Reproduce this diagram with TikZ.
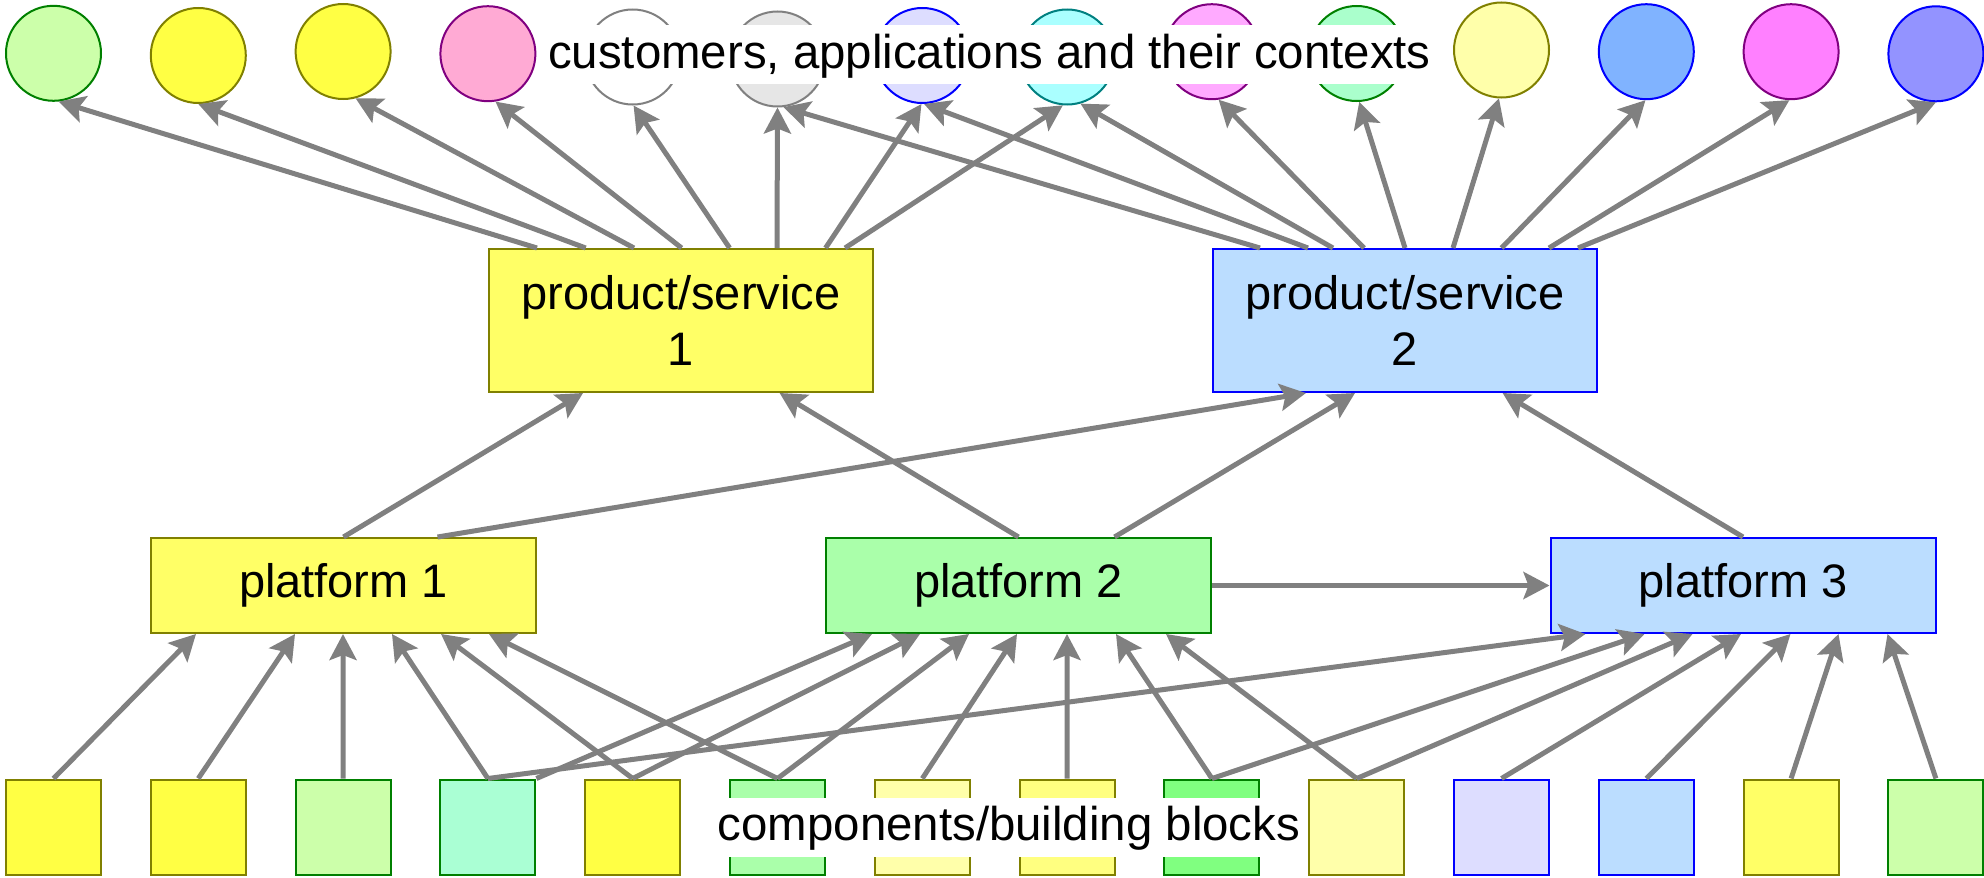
\documentclass[tikz,border=0pt]{standalone}
\usepackage{fontspec}
\setmainfont{Liberation Sans}
\usetikzlibrary{arrows.meta}
\definecolor{arrgray}{HTML}{808080}
\definecolor{dolive}{HTML}{808000}
\definecolor{dgreen}{HTML}{008000}
\definecolor{dblue}{HTML}{0000FF}
\definecolor{dpurple}{HTML}{800080}
\definecolor{dgray}{HTML}{808080}
\definecolor{dteal}{HTML}{008080}
\definecolor{fyel}{HTML}{FFFF44}
\definecolor{fyelb}{HTML}{FFFF66}
\definecolor{fyelc}{HTML}{FFFF80}
\definecolor{fpyel}{HTML}{FFFFAA}
\definecolor{flime}{HTML}{CCFFAA}
\definecolor{fmint}{HTML}{AAFFD4}
\definecolor{flgreen}{HTML}{AAFFAA}
\definecolor{fgreen}{HTML}{80FF80}
\definecolor{fpink}{HTML}{FFAAD4}
\definecolor{flgray}{HTML}{E6E6E6}
\definecolor{flav}{HTML}{DDDDFF}
\definecolor{fcyan}{HTML}{AAFFFF}
\definecolor{fmag}{HTML}{FFAAFF}
\definecolor{fmintb}{HTML}{AAFFCC}
\definecolor{fblue}{HTML}{80B3FF}
\definecolor{fmagb}{HTML}{FF80FF}
\definecolor{fperi}{HTML}{9393FF}
\definecolor{flblue}{HTML}{BBDDFF}
\begin{document}
\begin{tikzpicture}[x=1pt,y=-1pt,
  circ/.style={circle, minimum size=95pt, inner sep=0pt, line width=2pt},
  sqbox/.style={rectangle, minimum width=95pt, minimum height=95pt, inner sep=0pt, line width=2pt},
  platbox/.style={rectangle, minimum width=385pt, minimum height=95pt, inner sep=0pt, line width=2pt, font=\fontsize{47}{56.7}\selectfont},
  prodbox/.style={rectangle, minimum width=384pt, minimum height=143pt, inner sep=0pt, line width=2pt, align=center, font=\fontsize{47}{56.7}\selectfont},
  lab/.style={fill=white, inner xsep=4pt, inner ysep=0pt, text height=43pt, text depth=16pt, font=\fontsize{47.4}{56}\selectfont},
  arr/.style={draw=arrgray, line width=5pt, -{Stealth[length=26pt,width=27pt,inset=5pt]}}
]
\useasboundingbox (0,0) rectangle (1984,878);
% circles
\foreach \i/\x/\y/\f/\d in {1/53.5/53.3/flime/dgreen, 2/198.3/55.5/fyel/dolive, 3/343.1/51.5/fyel/dolive,
  4/487.9/53.7/fpink/dpurple, 5/632.7/57/white/dgray, 6/777.5/59/flgray/dgray, 7/922.3/55.5/flav/dblue,
  8/1067.1/57/fcyan/dteal, 9/1211.9/51.7/fmag/dpurple, 10/1356.7/53.5/fmintb/dgreen, 11/1501.5/50/fpyel/dolive,
  12/1646.3/51.7/fblue/dblue, 13/1791.1/51.7/fmagb/dpurple, 14/1935.9/53.8/fperi/dblue}
  \node[circ, fill=\f, draw=\d] (c\i) at (\x,\y) {};
% squares
\foreach \i/\f/\d in {1/fyel/dolive, 2/fyel/dolive, 3/flime/dgreen, 4/fmint/dgreen, 5/fyel/dolive,
  6/flgreen/dgreen, 7/fpyel/dolive, 8/fyelc/dolive, 9/fgreen/dgreen, 10/fpyel/dolive,
  11/flav/dblue, 12/flblue/dblue, 13/fyelb/dolive, 14/flime/dgreen}
  \node[sqbox, fill=\f, draw=\d] (s\i) at ({53.5+144.8*(\i-1)},827) {};
% labels
\node[lab] (ctx) at (989.5,54.5) {customers, applications and their contexts};
\node[lab] (cmp) at (1009,827) {components/building blocks};
% products and platforms
\node[prodbox, fill=fyelb, draw=dolive] (PA) at (681,320.5) {product/service\\1};
\node[prodbox, fill=flblue, draw=dblue] (PB) at (1405,320.5) {product/service\\2};
\node[platbox, fill=fyelb, draw=dolive] (L1) at (343.5,585.5) {platform 1};
\node[platbox, fill=flgreen, draw=dgreen] (L2) at (1018.5,585.5) {platform 2};
\node[platbox, fill=flblue, draw=dblue] (L3) at (1743,585.5) {platform 3};
% product -> circles
\draw[arr] ([xshift=49pt]PA.north west) -- (c1.-84.7);
\draw[arr] ([xshift=97.7pt]PA.north west) -- (c2.-90);
\draw[arr] ([xshift=146pt]PA.north west) -- (c3.-75.7);
\draw[arr] ([xshift=193.6pt]PA.north west) -- (c4.-81);
\draw[arr] ([xshift=241.6pt]PA.north west) -- (c5.-89);
\draw[arr] ([xshift=289pt]PA.north west) -- (c6.-90);
\draw[arr] ([xshift=337.5pt]PA.north west) -- (c7.-91.5);
\draw[arr] ([xshift=357pt]PA.north west) -- (c8.-95.3);
\draw[arr] ([xshift=48pt]PB.north west) -- (c6.-83);
\draw[arr] ([xshift=96pt]PB.north west) -- (c7.-88);
\draw[arr] ([xshift=121pt]PB.north west) -- (c8.-74);
\draw[arr] ([xshift=152pt]PB.north west) -- (c9.-82);
\draw[arr] ([xshift=193pt]PB.north west) -- (c10.-87.6);
\draw[arr] ([xshift=241pt]PB.north west) -- (c11.-93.5);
\draw[arr] ([xshift=289.5pt]PB.north west) -- (c12.-91.5);
\draw[arr] ([xshift=337pt]PB.north west) -- (c13.-92.4);
\draw[arr] ([xshift=366pt]PB.north west) -- (c14.-90);
% platforms -> products
\draw[arr] (L1.north) -- ([xshift=95pt]PA.south west);
\draw[arr] ([xshift=94pt]L1.north) -- ([xshift=94pt]PB.south west);
\draw[arr] (L2.north) -- ([xshift=291.6pt]PA.south west);
\draw[arr] ([xshift=96pt]L2.north) -- ([xshift=143pt]PB.south west);
\draw[arr] (L3.north) -- ([xshift=290.6pt]PB.south west);
\draw[arr] (L2.east) -- (L3.west);
% components -> platforms
\draw[arr] (s1.north) -- ([xshift=46pt]L1.south west);
\draw[arr] (s2.north) -- ([xshift=145pt]L1.south west);
\draw[arr] (s3.north) -- ([xshift=193pt]L1.south west);
\draw[arr] (s4.north) -- ([xshift=242pt]L1.south west);
\draw[arr] (s5.north) -- ([xshift=291pt]L1.south west);
\draw[arr] (s6.north) -- ([xshift=339pt]L1.south west);
\draw[arr] (s4.north east) -- ([xshift=47pt]L2.south west);
\draw[arr] (s5.north) -- ([xshift=95pt]L2.south west);
\draw[arr] (s6.north) -- ([xshift=144pt]L2.south west);
\draw[arr] (s7.north) -- ([xshift=192pt]L2.south west);
\draw[arr] (s8.north) -- ([xshift=242pt]L2.south west);
\draw[arr] (s9.north) -- ([xshift=291pt]L2.south west);
\draw[arr] (s10.north) -- ([xshift=341pt]L2.south west);
\draw[arr] (s4.north) -- ([xshift=36pt]L3.south west);
\draw[arr] (s9.north) -- ([xshift=95pt]L3.south west);
\draw[arr] (s10.north) -- ([xshift=143pt]L3.south west);
\draw[arr] (s11.north) -- ([xshift=191.5pt]L3.south west);
\draw[arr] (s12.north) -- ([xshift=241pt]L3.south west);
\draw[arr] (s13.north) -- ([xshift=289pt]L3.south west);
\draw[arr] (s14.north) -- ([xshift=338pt]L3.south west);
\end{tikzpicture}
\end{document}
